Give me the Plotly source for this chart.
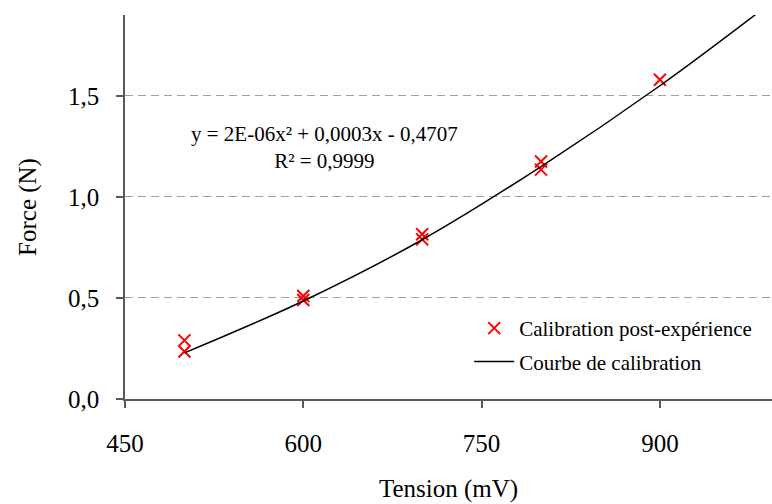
import plotly.graph_objects as go

# Measured calibration points (Tension mV, Force N)
tension = [500, 500, 600, 600, 700, 700, 800, 800, 900]
force = [0.29, 0.235, 0.51, 0.49, 0.815, 0.79, 1.175, 1.135, 1.58]

# Calibration curve
curve_x = [500, 600, 700, 800, 900, 1000]
curve_y = [0.228, 0.485, 0.788, 1.150, 1.550, 1.99]

y_ticks = [0.0, 0.5, 1.0, 1.5]
y_ticktext = ["0,0", "0,5", "1,0", "1,5"]
x_ticks = [450, 600, 750, 900]

equation = "y = 2E-06x² + 0,0003x - 0,4707"
r2 = "R² = 0,9999"

FONT = "Liberation Serif"

fig = go.Figure()
fig.add_trace(go.Scatter(
    x=tension, y=force, mode="markers", name="Calibration post-expérience",
    legendgroup="a",
    marker=dict(symbol="x-thin", size=12, line=dict(color="#ff0000", width=2), color="#ff0000"),
))
fig.add_trace(go.Scatter(
    x=curve_x, y=curve_y, mode="lines", name="Courbe de calibration",
    legendgroup="b",
    line=dict(color="black", width=1.5, shape="spline"),
))

fig.add_annotation(x=0.308, y=0.656, xref="paper", yref="paper",
                   xanchor="center", yanchor="middle",
                   text=equation + "<br>" + r2, showarrow=False,
                   font=dict(family=FONT, size=21, color="black"), align="center")

fig.update_layout(
    width=772, height=504,
    margin=dict(l=125, r=0, t=15, b=105),
    paper_bgcolor="white", plot_bgcolor="white",
    font=dict(family=FONT, color="black"),
    showlegend=True,
    legend=dict(x=0.532, y=0.237, xanchor="left", yanchor="top",
                bgcolor="rgba(0,0,0,0)", font=dict(family=FONT, size=21),
                itemwidth=40, tracegroupgap=3),
)
fig.update_xaxes(
    range=[450, 994.3], tickmode="array", tickvals=x_ticks,
    showgrid=False, zeroline=False,
    showline=True, linecolor="#595959", linewidth=1.5,
    ticks="outside", ticklen=7, tickcolor="#595959", tickwidth=1.5,
    tickfont=dict(family=FONT, size=25), ticklabelstandoff=14,
    title=dict(text="Tension (mV)", font=dict(family=FONT, size=25), standoff=24),
)
fig.update_yaxes(
    range=[0, 1.9], tickmode="array", tickvals=y_ticks, ticktext=y_ticktext,
    showgrid=True, gridcolor="#a0a0a0", gridwidth=1.4, griddash="8px,5px",
    zeroline=False,
    showline=True, linecolor="#595959", linewidth=1.5,
    ticks="outside", ticklen=7, tickcolor="#595959", tickwidth=1.5,
    tickfont=dict(family=FONT, size=25), ticklabelstandoff=12,
    title=dict(text="Force (N)", font=dict(family=FONT, size=25), standoff=24),
)

fig.write_html("out.html")
